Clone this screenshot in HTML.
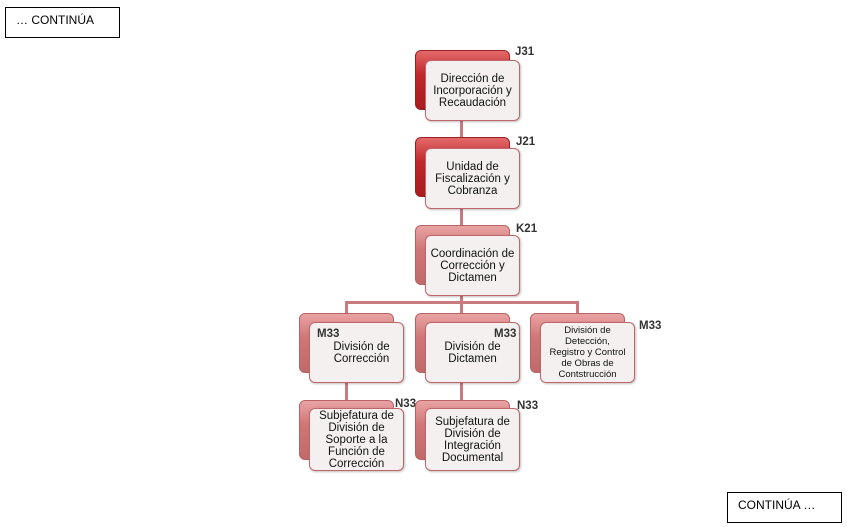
<!DOCTYPE html>
<html><head><meta charset="utf-8"><style>
body{margin:0;width:847px;height:527px;background:#fff;position:relative;overflow:hidden;font-family:"Liberation Sans",sans-serif}
.bk{position:absolute;width:93px;height:58px;border-radius:6px}
.dark{background:linear-gradient(#e46a6a,#c0282c 40%,#a81c20);border:1px solid #9a2024}
.light{background:linear-gradient(#eaa3a3,#cf7777 40%,#c06a6a);border:1px solid #b86464}
.fr{position:absolute;width:93px;height:59px;border-radius:6px;background:#f4f0f0;border:1.5px solid #c0666a;box-shadow:1px 1px 2px rgba(0,0,0,.25);display:flex;align-items:center;justify-content:center;text-align:center;font-size:11.5px;line-height:12px;color:#111}
.lb{position:absolute;font-weight:bold;font-size:11.5px;color:#333}
.ln{position:absolute;background:#c97a7e}
.box{position:absolute;border:1px solid #000;font-size:12px;width:115px;height:31px;box-sizing:border-box;padding:5px 0 0 10px}
</style></head><body>
<div class="box" style="left:5px;top:7px">… CONTINÚA</div>
<div class="box" style="left:727px;top:492px">CONTINÚA …</div>

<div class="ln" style="left:460px;top:115px;width:3px;height:120px"></div>
<div class="ln" style="left:345px;top:301px;width:234px;height:3px"></div>
<div class="ln" style="left:460px;top:290px;width:3px;height:120px"></div>
<div class="ln" style="left:345px;top:301px;width:3px;height:110px"></div>
<div class="ln" style="left:576px;top:301px;width:3px;height:15px"></div>

<div class="bk dark" style="left:415px;top:50px"></div>
<div class="fr" style="left:425px;top:60px">Dirección de<br>Incorporación y<br>Recaudación</div>
<div class="lb" style="left:515px;top:46px">J31</div>

<div class="bk dark" style="left:415px;top:137px"></div>
<div class="fr" style="left:425px;top:148px">Unidad de<br>Fiscalización y<br>Cobranza</div>
<div class="lb" style="left:516px;top:136px">J21</div>

<div class="bk light" style="left:415px;top:225px"></div>
<div class="fr" style="left:425px;top:235px">Coordinación de<br>Corrección y<br>Dictamen</div>
<div class="lb" style="left:516px;top:223px">K21</div>

<div class="bk light" style="left:299px;top:313px"></div>
<div class="fr" style="left:309px;top:322px"><span style="margin-left:10px">División de<br>Corrección</span></div>
<div class="lb" style="left:317px;top:328px">M33</div>

<div class="bk light" style="left:415px;top:313px"></div>
<div class="fr" style="left:425px;top:322px">División de<br>Dictamen</div>
<div class="lb" style="left:494px;top:328px">M33</div>

<div class="bk light" style="left:530px;top:313px"></div>
<div class="fr" style="left:540px;top:322px;font-size:9.5px;line-height:11px">División de<br>Detección,<br>Registro y Control<br>de Obras de<br>Contstrucción</div>
<div class="lb" style="left:639px;top:320px">M33</div>

<div class="bk light" style="left:299px;top:400px"></div>
<div class="fr" style="left:309px;top:408px;height:61px">Subjefatura de<br>División de<br>Soporte a la<br>Función de<br>Corrección</div>
<div class="lb" style="left:395px;top:398px">N33</div>

<div class="bk light" style="left:415px;top:400px"></div>
<div class="fr" style="left:425px;top:408px;height:61px">Subjefatura de<br>División de<br>Integración<br>Documental</div>
<div class="lb" style="left:517px;top:400px">N33</div>
</body></html>
